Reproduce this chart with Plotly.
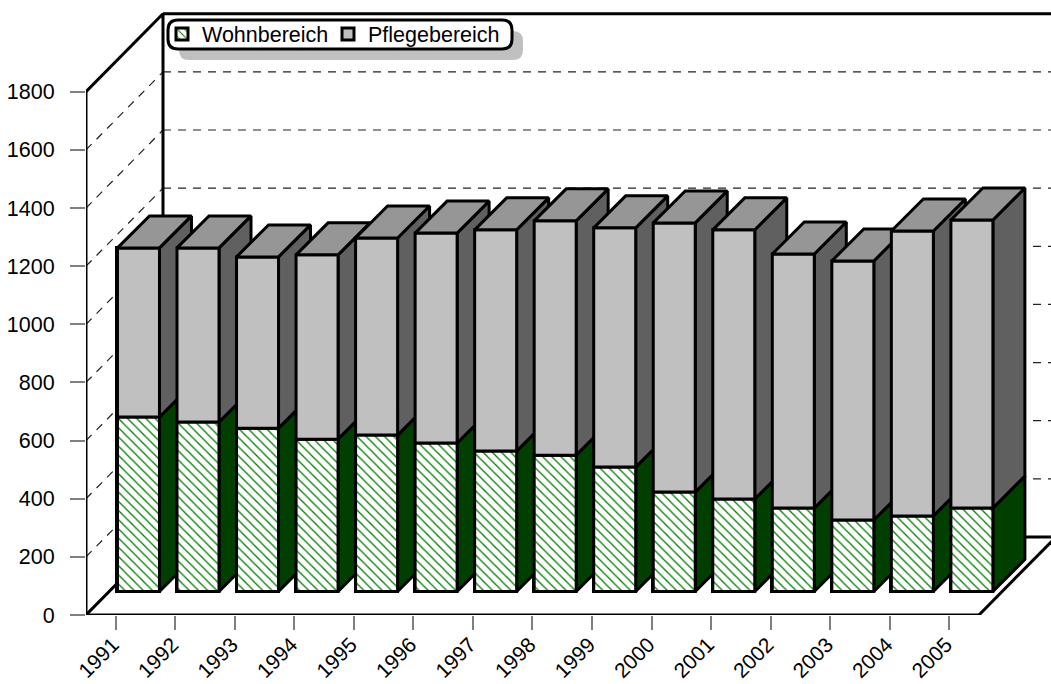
import plotly.graph_objects as go

years = [str(y) for y in range(1991, 2006)]
wohnbereich = [600, 583, 562, 524, 538, 511, 483, 469, 428, 342, 318, 287, 246, 260, 287]
pflegebereich = [582, 599, 589, 634, 678, 722, 761, 806, 823, 926, 926, 874, 891, 980, 991]
y_ticks = [0, 200, 400, 600, 800, 1000, 1200, 1400, 1600, 1800]

W, H = 1051, 684
FONT = "Liberation Sans"
PX_X = 59.53      # pixels per category
PX_Y = 0.2907     # pixels per value unit
LEFT, BOTTOM = 86, 615
# conversions of the 3D projection depth (pixels) to data units
to_dx = lambda p: p / PX_X
to_dy = lambda p: p / PX_Y
WALL_DX, WALL_DY = to_dx(77), to_dy(78)
BAR_DX, BAR_DY = to_dx(32), to_dy(32)
BAR_SHIFT, BAR_BASE = to_dx(22.7), to_dy(23.5)
BAR_W = to_dx(42)
X0, X1 = -0.5, len(years) - 0.5
XMAX = (W - LEFT) / PX_X - 0.5
YMAX = BOTTOM / PX_Y
TOP = y_ticks[-1]

GREEN_HATCH = dict(shape="\\", fgcolor="#008000", bgcolor="white", size=6.5, solidity=0.2,
                   fgopacity=1, fillmode="replace")
LW = 3

fig = go.Figure()

# real bars (also provide the legend keys)
bar_x = [i + BAR_SHIFT for i in range(len(years))]
fig.add_bar(x=bar_x, y=wohnbereich, base=[BAR_BASE] * len(years), width=BAR_W, name="Wohnbereich",
            marker=dict(color="white", pattern=GREEN_HATCH, line=dict(color="black", width=LW)))
fig.add_bar(x=bar_x, y=pflegebereich, base=[BAR_BASE + v for v in wohnbereich], width=BAR_W, name="Pflegebereich",
            legend="legend2", marker=dict(color="#c0c0c0", line=dict(color="black", width=LW)))


def line(xs, ys, width=LW, dash=None, color="black", clip=False):
    fig.add_scatter(x=xs, y=ys, mode="lines", showlegend=False, hoverinfo="skip", cliponaxis=clip,
                    line=dict(color=color, width=width, dash=dash))


def face(xs, ys, color, pattern=None):
    kw = dict(fillpattern=pattern) if pattern else {}
    fig.add_scatter(x=xs + xs[:1], y=ys + ys[:1], mode="lines", fill="toself", fillcolor=color,
                    showlegend=False, hoverinfo="skip", cliponaxis=True,
                    line=dict(color="black", width=LW), **kw)


# walls: dashed gridlines
for v in y_ticks[1:-1]:
    line([X0, X0 + WALL_DX], [v, v + WALL_DY], width=1.2, dash="8px,7px", color="#222222", clip=True)
    line([X0 + WALL_DX, XMAX], [v + WALL_DY, v + WALL_DY], width=1.2, dash="8px,7px", color="#222222", clip=True)

# walls and floor: solid outline
line([X0, X0], [0, TOP])
line([X0, X0 + WALL_DX, X0 + WALL_DX], [TOP, TOP + WALL_DY, WALL_DY])
line([X0 + WALL_DX, XMAX], [TOP + WALL_DY, TOP + WALL_DY])
line([X0, X0 + WALL_DX, XMAX], [0, WALL_DY, WALL_DY])
line([X0, X1], [0, 0])
line([X1, X1 + WALL_DX], [0, WALL_DY])

# 3D faces
for i in range(len(years)):
    xl = i + BAR_SHIFT - BAR_W / 2
    xr = xl + BAR_W
    y0 = BAR_BASE
    y1 = y0 + wohnbereich[i]
    y2 = y1 + pflegebereich[i]
    face([xr, xr + BAR_DX, xr + BAR_DX, xr], [y0, y0 + BAR_DY, y1 + BAR_DY, y1], "#003f00")
    face([xl, xr, xr, xl], [y0, y0, y1, y1], "white", GREEN_HATCH)
    face([xr, xr + BAR_DX, xr + BAR_DX, xr], [y1, y1 + BAR_DY, y2 + BAR_DY, y2], "#606060")
    face([xl, xr, xr, xl], [y1, y1, y2, y2], "#c0c0c0")
    face([xl, xr, xr + BAR_DX, xl + BAR_DX], [y2, y2, y2 + BAR_DY, y2 + BAR_DY], "#969696")


def rounded(x0, y0, x1, y1, r):
    """rounded rectangle path in pixels -> paper coordinates"""
    px = lambda x: (x - LEFT) / (W - LEFT)
    py = lambda y: 1 - y / BOTTOM
    pts = [("M", x0 + r, y0), ("L", x1 - r, y0), ("Q", x1, y0, x1, y0 + r), ("L", x1, y1 - r),
           ("Q", x1, y1, x1 - r, y1), ("L", x0 + r, y1), ("Q", x0, y1, x0, y1 - r), ("L", x0, y0 + r),
           ("Q", x0, y0, x0 + r, y0)]
    out = []
    for p in pts:
        c = p[1:]
        out.append(p[0] + " ".join(f"{px(c[k]):.5f},{py(c[k + 1]):.5f}" for k in range(0, len(c), 2)))
    return " ".join(out) + " Z"


shapes = [
    dict(type="path", xref="paper", yref="paper", layer="below", path=rounded(179, 31, 523, 60, 10),
         fillcolor="#c0c0c0", line=dict(width=0)),
    dict(type="path", xref="paper", yref="paper", layer="below", path=rounded(168, 20, 512, 49, 10),
         fillcolor="white", line=dict(color="black", width=LW)),
]

legend_common = dict(y=1 - 34 / BOTTOM, xanchor="left", yanchor="middle", bgcolor="rgba(0,0,0,0)", borderwidth=0,
                     font=dict(family=FONT, size=21.5), orientation="h")

fig.update_layout(
    width=W, height=H, autosize=False,
    margin=dict(l=LEFT, r=0, t=0, b=H - BOTTOM, pad=0, autoexpand=False),
    paper_bgcolor="white", plot_bgcolor="white",
    font=dict(family=FONT, size=21.5, color="black"),
    barmode="overlay", bargap=0,
    shapes=shapes,
    legend=dict(x=(162 - LEFT) / (W - LEFT), **legend_common),
    legend2=dict(x=(328 - LEFT) / (W - LEFT), **legend_common),
    xaxis=dict(range=[X0, XMAX], tickmode="array", tickvals=list(range(len(years))), ticktext=years,
               tickangle=-45, ticks="outside", ticklen=14, tickwidth=2, tickcolor="#808080", automargin=False,
               showgrid=False, zeroline=False, showline=False, fixedrange=True,
               ticklabelstandoff=-6, ticklabelshift=-3, tickfont=dict(family=FONT, size=21)),
    yaxis=dict(range=[0, YMAX], tickmode="array", tickvals=y_ticks, ticks="outside", ticklen=15, tickwidth=2,
               tickcolor="#808080", showgrid=False, zeroline=False, showline=False, fixedrange=True,
               automargin=False, ticklabelstandoff=11, tickfont=dict(family=FONT, size=21.5)),
)

fig.write_html("out.html", config=dict(displayModeBar=False),
               post_script="document.body.style.margin='0';")
